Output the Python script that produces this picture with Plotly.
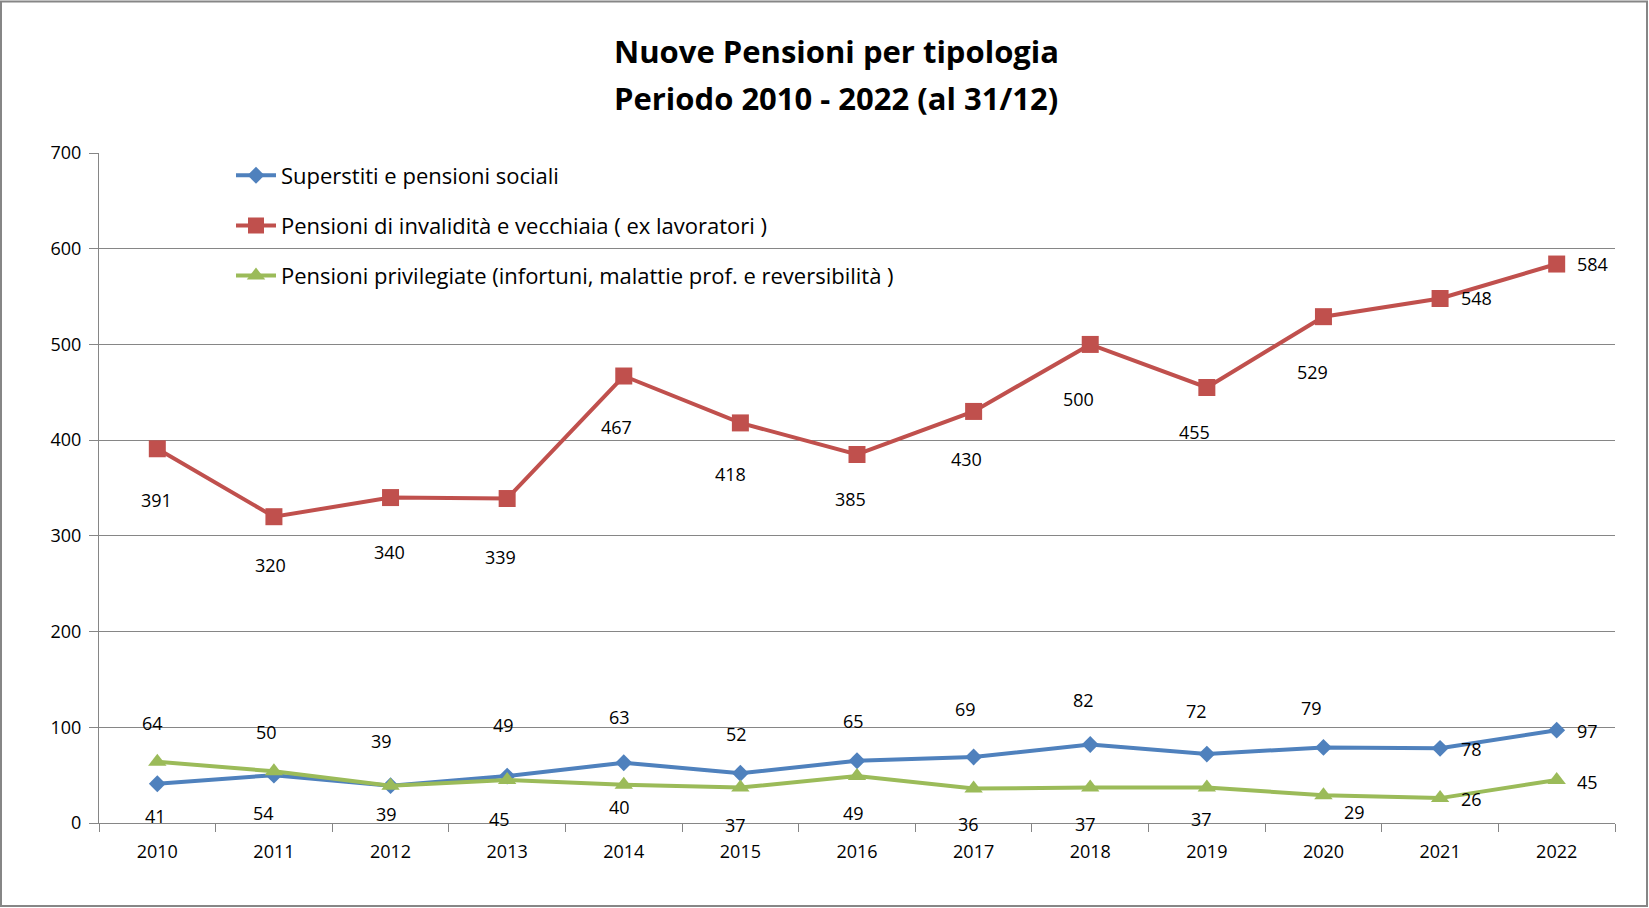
import plotly.graph_objects as go

years = ["2010", "2011", "2012", "2013", "2014", "2015", "2016",
         "2017", "2018", "2019", "2020", "2021", "2022"]
superstiti = [41, 50, 39, 49, 63, 52, 65, 69, 82, 72, 79, 78, 97]
invalidita = [391, 320, 340, 339, 467, 418, 385, 430, 500, 455, 529, 548, 584]
privilegiate = [64, 54, 39, 45, 40, 37, 49, 36, 37, 37, 29, 26, 45]

names = [
    "Superstiti e pensioni sociali",
    "Pensioni di invalidità e vecchiaia ( ex lavoratori )",
    "Pensioni privilegiate (infortuni, malattie prof. e reversibilità )",
]
title1 = "Nuove Pensioni per tipologia"
title2 = "Periodo 2010 - 2022 (al 31/12)"

# label offsets in screen px (dx right, dy down) - styling only
off_blue = [(-2, 32), (-7, -43), (-9, -45), (-4, -51), (-4, -46), (-4, -39), (-4, -40),
            (-8, -48), (-7, -45), (-10, -43), (-12, -39), (31, 1), (31, 1)]
off_red = [(-1, 51), (-3, 48), (-1, 54), (-7, 58), (-7, 51), (-10, 51), (-7, 44),
           (-7, 48), (-12, 55), (-12, 44), (-11, 55), (36, 0), (36, 0)]
off_green = [(-5, -39), (-10, 42), (-4, 28), (-8, 39), (-4, 22), (-5, 37), (-4, 37),
             (-5, 35), (-5, 36), (-5, 31), (31, 17), (31, 1), (31, 2)]

BLUE, RED, GREEN = "#4F81BD", "#C0504D", "#9BBB59"
GRID = "#868686"
FONT = "Open Sans"

W, H = 1649, 908
ML, MR, MT, MB = 99, 34, 152.5, 85
PW, PH = W - ML - MR, H - MT - MB

fig = go.Figure()
series = [
    (superstiti, names[0], BLUE, "diamond", 13, off_blue),
    (invalidita, names[1], RED, "square", 17, off_red),
    (privilegiate, names[2], GREEN, "triangle-up", 16, off_green),
]
annotations = []
for i, (vals, nm, col, sym, sz, offs) in enumerate(series):
    fig.add_trace(go.Scatter(
        x=years, y=vals, name=nm, mode="lines+markers",
        line=dict(color=col, width=4),
        marker=dict(symbol=sym, size=sz, color=col, line=dict(width=0)),
        legendgroup=f"g{i}",
    ))
    for k, (v, (dx, dy)) in enumerate(zip(vals, offs)):
        annotations.append(dict(
            x=k, y=v, xref="x", yref="y", text=str(v), showarrow=False,
            xanchor="center", yanchor="middle",
            xshift=dx, yshift=-dy, font=dict(family=FONT, size=18, color="black"),
        ))

def px_to_paper_x(px):
    return (px - ML) / PW

def px_to_paper_y(py):
    return (H - MB - py) / PH

for txt, yy in [(title1, 50), (title2, 97)]:
    annotations.append(dict(x=px_to_paper_x(836), y=px_to_paper_y(yy), xref="paper", yref="paper",
                            xanchor="center", yanchor="middle",
                            text="<b>" + txt + "</b>", showarrow=False,
                            font=dict(family=FONT, size=31, color="black")))

fig.update_layout(
    width=W, height=H,
    margin=dict(l=ML, r=MR, t=MT, b=MB, pad=0),
    paper_bgcolor="white", plot_bgcolor="white",
    showlegend=True,
    legend=dict(
        x=px_to_paper_x(231), y=px_to_paper_y(154), xanchor="left", yanchor="top",
        font=dict(family=FONT, size=22, color="black"),
        bgcolor="rgba(0,0,0,0)", tracegroupgap=18.5, itemwidth=40,
    ),
    annotations=annotations,
    shapes=[dict(type="rect", xref="paper", yref="paper",
                 x0=px_to_paper_x(1), x1=px_to_paper_x(1647),
                 y0=px_to_paper_y(906), y1=px_to_paper_y(1),
                 line=dict(color=GRID, width=2), layer="below")],
    xaxis=dict(
        type="category", range=[-0.5, len(years) - 0.5],
        tickson="boundaries", ticks="outside", ticklen=8, tickcolor=GRID,
        showline=True, linecolor=GRID, linewidth=1, showgrid=False,
        tickfont=dict(family=FONT, size=18, color="black"), ticklabelstandoff=12,
        fixedrange=True,
    ),
    yaxis=dict(
        range=[0, 700], dtick=100, ticks="outside", ticklen=9, tickcolor=GRID,
        showline=True, linecolor=GRID, linewidth=1,
        showgrid=True, gridcolor=GRID, gridwidth=1, zeroline=False,
        tickfont=dict(family=FONT, size=18, color="black"), ticklabelstandoff=4,
        fixedrange=True,
    ),
)
fig.write_html("out.html", config={"displayModeBar": False},
               post_script="document.body.style.margin='0px';")
